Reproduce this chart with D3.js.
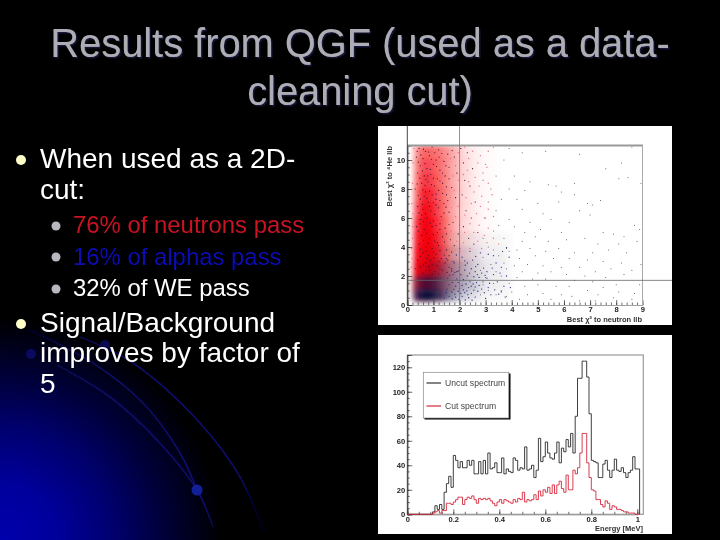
<!DOCTYPE html>
<html><head><meta charset="utf-8">
<script src="https://cdnjs.cloudflare.com/ajax/libs/d3/7.8.5/d3.min.js"></script>
<style>html,body{margin:0;padding:0;background:#000}svg{display:block}text{font-family:"Liberation Sans",Arial,sans-serif}</style>
</head><body><div id="c"></div>
<script>
// ---------- slide text ----------
const titleLines = ["Results from QGF (used as a data-", "cleaning cut)"];
const bulletOne = ["When used as a 2D-", "cut:"];
const subBullets = ["76% of neutrons pass", "16% of alphas pass", "32% of WE pass"];
const bulletTwo = ["Signal/Background", "improves by factor of", "5"];

// ---------- scatter: density read per cell (rows from y=11 down to the floor, columns 0.25 wide) ----------
const densityColStep = 0.25;
const densityFloor = 0.3;
const redDensity = [
 [.02,.42,.60,.58,.54,.46,.36,.26,.15,.09,.06,.03,.02,.01,0,0],
 [.02,.48,.70,.68,.58,.48,.36,.26,.15,.10,.06,.03,.02,.01,0,0],
 [.02,.52,.78,.74,.62,.50,.36,.26,.15,.10,.06,.03,.02,.01,0,0],
 [.03,.58,.88,.84,.68,.52,.38,.26,.15,.10,.06,.03,.02,.01,0,0],
 [.03,.68,.96,.90,.74,.55,.38,.26,.15,.10,.06,.03,.02,.01,0,0],
 [.05,.82,1,.97,.80,.60,.40,.26,.15,.10,.06,.03,.02,.01,0,0],
 [.05,.88,1,1,.86,.62,.40,.26,.15,.10,.06,.03,.02,.01,0,0],
 [.06,.95,1,1,.90,.66,.42,.26,.15,.09,.05,.02,.01,0,0,0],
 [.08,1,1,1,.90,.66,.38,.22,.12,.06,.03,.02,.01,0,0,0],
 [.08,.80,.85,.78,.58,.36,.24,.12,.06,.03,.01,0,0,0,0,0],
 [.04,.30,.30,.25,.20,.10,.05,.02,0,0,0,0,0,0,0,0]
];
const navyDensity = [
 [0,0,0,0,0,0,0,0,0,0,0,0,0,0,0,0],
 [0,0,0,0,0,0,0,0,0,0,0,0,0,0,0,0],
 [0,0,0,0,0,0,0,0,0,0,0,0,0,0,0,0],
 [0,0,0,0,0,0,0,0,0,0,0,0,0,0,0,0],
 [0,0,0,0,0,0,0,0,0,0,0,0,0,0,0,0],
 [0,0,0,0,0,0,0,0,0,0,0,0,0,0,0,0],
 [0,0,0,0,.02,.03,.04,.05,.05,.05,.05,.04,.03,.03,.03,.02],
 [0,0,.03,.05,.08,.10,.12,.14,.14,.12,.10,.07,.05,.05,.06,.02],
 [0,.04,.12,.20,.26,.30,.32,.30,.26,.20,.14,.10,.07,.07,.05,.03],
 [.03,.45,.70,.72,.62,.50,.42,.36,.30,.22,.16,.11,.07,.06,.05,.03],
 [.05,.80,1,.98,.85,.65,.45,.30,.20,.14,.10,.06,.04,.03,.03,.02]
];

// ---------- scatter: individual dark events ----------
const cloudDots = [[.45,10.8],[.7,10.6],[.95,10.9],[1.2,10.7],[1.55,10.4],[.35,10.2],[.6,10.1],[.85,10.3],[1.1,10],[1.4,9.9],[1.8,10.2],[.5,9.6],[.75,9.4],[1,9.7],[1.25,9.3],[1.6,9.5],[.4,9.1],[.65,8.9],[.9,9],[1.15,8.7],[1.45,8.9],[1.9,9.1],[.55,8.4],[.8,8.5],[1.05,8.2],[1.35,8.4],[1.7,8.1],[.3,8],[.7,7.8],[.95,7.6],[1.2,7.9],[1.5,7.6],[.5,7.3],[.8,7.1],[1.1,7.3],[1.4,7],[1.85,7.4],[.4,6.8],[.6,6.6],[.9,6.5],[1.2,6.7],[1.6,6.4],[.75,6],[.5,5.9],[1,5.8],[1.3,6.1],[1.75,5.7],[.35,5.4],[.65,5.2],[.95,5.4],[1.15,5],[1.45,5.3],[.55,4.8],[.85,4.6],[1.05,4.4],[1.35,4.7],[1.65,4.5],[1.95,4.9],[.45,4.2],[.7,4],[.95,3.9],[1.2,4.1],[1.5,3.8],[1.8,4.1],[.6,3.6],[.8,3.4],[1.1,3.5],[1.3,3.2],[1.6,3.4],[.4,3.1],[.7,2.9],[.95,2.8],[1.15,2.7],[1.45,2.9],[1.75,3],[.5,2.6],[.85,2.4],[1.05,2.3],[1.35,2.4],[1.6,2.6],[1.9,2.3],[.6,2.2],[.3,2.5],[2.05,10.8],[2.3,10.5],[2.15,9.8],[2.5,9.4],[2.2,8.6],[2.4,8.2],[2.1,7.6],[2.6,7.1],[2.25,6.5],[2.45,6],[2.15,5.4],[2.7,5],[2.35,4.6],[2.55,4.2],[.65,7.5],[.55,6.2],[.9,3.1],[1.25,5.6],[.78,8.9],[1.05,10.5],[.48,5.6],[1.55,7.2],
 [.38,10.6],[.62,10.75],[.82,10.55],[1.32,10.45],[1.72,10.65],[.52,10.35],[.92,10.05],[1.22,10.2],[.42,9.85],[.68,9.75],[1.12,9.55],[1.48,9.6],[.58,9.25],[.88,9.35],[1.35,9.1],[.48,8.75],[.72,8.65],[1,8.75],[1.25,8.55],[1.6,8.7],[.38,8.35],[.68,8.25],[.92,8.3],[1.5,8.15],[.6,7.95],[.85,7.85],[1.1,7.65],[1.35,7.7],[.42,7.55],[.75,7.35],[1,7.05],[1.25,7.2],[.58,6.95],[.85,6.8],[1.1,6.9],[1.48,6.75],[.45,6.35],[.7,6.3],[1.05,6.25],[1.4,6.35],[.62,5.75],[.88,5.65],[1.1,5.5],[1.6,5.55],[.42,5.1],[.75,4.95],[1,4.85],[1.25,5.2],[1.5,4.9],[.62,4.45],[.8,4.25],[1.15,4.3],[1.42,4.35],[.5,3.85],[.72,3.7],[1,3.65],[1.25,3.75],[1.42,3.45],[1.7,3.65],[.5,3.35],[.75,3.2],[1.02,3.25],[1.22,3],[1.55,3.1],[.62,2.75],[.82,2.65],[1.25,2.5],[1.52,2.25],[1.7,2.35],[.72,2.4],[.95,2.15],[1.2,2.15]];
const pinkDots = [[2.2,10.9],[2.5,10.6],[2.8,10.3],[3.1,10.6],[2.35,10.1],[2.7,9.8],[3.05,9.5],[2.3,9.3],[2.9,9.1],[2.15,9],[2.6,8.8],[2.35,8.5],[2.75,8.2],[3.1,8.4],[2.55,7.8],[2.25,7.4],[2.85,7.5],[3.25,7.6],[2.45,7],[2.8,6.8],[3.1,6.6],[2.2,6.2],[2.65,6.3],[2.95,6],[3.3,6.1],[2.4,5.6],[2.75,5.5],[3.1,5.3],[2.2,5],[2.55,5],[2.95,4.8],[3.3,4.6],[2.15,4.3],[2.7,4.4],[3.05,4.3],[3.5,4.2],[2.4,3.9],[2.85,3.9],[3.3,3.8],[1.95,10.5],[1.85,9.6],[1.95,8.6],[1.8,7.9],[1.95,6.8],[1.85,6.1],[2,5.5],[1.9,4.4],[2,3.7],[1.65,10.1],[1.75,8.9],[1.65,7.4],[1.7,6.7],[1.68,5.1],[2.05,2.9],[.22,9.8],[.2,8.4],[.18,7],[.2,5.4],[.16,3.9],[.15,2.6],[.25,10.8],[.22,6.3],[.2,4.6],[.18,3.2]];
const outerDots = [[3.3,10.9],[3.9,10.8],[4.4,10.5],[5.3,10.6],[6.6,10.4],[8.6,10.9],[8.2,9.8],[7.6,9.4],[3.7,10],[3,9.7],[2.9,8.6],[3.4,8.9],[4.1,8.9],[4.7,8.5],[5.4,8.3],[5.7,8.2],[6.4,8.4],[8.1,8.7],[8.45,8.8],[8.95,8.4],[3.2,8],[3.9,8],[4.5,7.9],[5.9,7.8],[6.4,7.6],[7.4,7.2],[3.1,7.1],[3.6,7.3],[4.2,7.3],[5,7],[5.8,7.1],[6.9,7],[7.1,6.9],[3.4,6.5],[4.4,6.6],[5.2,6.3],[6.6,6.5],[7,6.2],[3,6],[3.9,5.9],[4.7,5.7],[5.5,5.9],[6.2,5.7],[8.7,5.5],[8.9,5.2],[3.5,5.5],[4.1,5.4],[3.3,5.1],[4.5,5],[5.1,5.2],[5.9,5],[7.5,5],[7.9,4.9],[8.3,4.7],[2.9,4.6],[3.7,4.6],[4.4,4.4],[4.9,4.7],[5.4,4.4],[6.1,4.5],[6.8,4.6],[7.3,4.2],[8.1,4.2],[8.8,4.4],[3.1,4],[3.8,3.9],[3.9,3.7],[4.2,3.8],[4.7,3.9],[5.3,3.7],[5.8,3.9],[6.4,3.6],[7.1,3.6],[7.7,3.8],[8.4,3.6],[2.9,3.3],[3.5,3.4],[4.3,3.2],[4.9,3.4],[5.6,3.2],[6.2,3.2],[6.9,3.1],[7.5,3],[8.2,2.9],[8.95,2.8],[3.2,2.8],[3.7,2.9],[4.1,2.7],[4.6,2.8],[5.2,2.7],[5.9,2.6],[6.6,2.6],[7.2,2.3],[7.8,2.5],[8.6,2.4],[2.8,2.4],[3.4,2.3],[3.8,2.5],[4.4,2.3],[5,2.2],[5.5,2.3],[6.1,2.1],[6.8,2],[7.6,1.9],[8.3,2.1],[3,1.9],[3.6,2],[4.2,1.9],[4.8,1.8],[5.3,1.8],[6.4,1.7],[7.1,1.6],[8,1.4],[8.9,1.4],[2.9,1.4],[3.3,1.5],[3.9,1.5],[4.5,1.3],[5,1.4],[5.7,1.3],[6.2,1.3],[6.9,1],[7.5,1.2],[8.1,.9],[8.7,.8],[3.1,1],[3.6,1],[4,.9],[4.6,.7],[5.2,.8],[5.9,.7],[6.3,.6],[7.3,.7],[7.9,.5],[8.6,.4],[2.8,.7],[3.4,.7],[3.8,.6],[4.3,.4],[5.5,.4],[6.6,.3],[7.2,.3]];
const midDots = [[1.5,3.2],[1.8,2.9],[2.1,3.3],[2.3,2.9],[2.5,3.1],[2.7,2.8],[1.7,2.5],[2,2.6],[2.2,2.4],[2.45,2.5],[2.6,2.3],[2.85,2.2],[3.05,2.3],[3.3,2.1],[3.55,2.2],[3.8,2],[2.05,2.1],[2.3,2],[2.55,1.95],[2.75,1.9],[1.9,1.8],[2.15,1.75],[2.4,1.6],[2.65,1.55],[2.9,1.6],[3.15,1.5],[3.45,1.6],[3.7,1.3],[3.95,1.2],[1.6,1.4],[1.85,1.3],[2.1,1.35],[2.35,1.2],[2.6,1.25],[2.85,1.1],[3.1,1.2],[3.35,1.05],[3.6,.9],[1.7,.9],[1.95,.95],[2.2,.85],[2.45,.8],[2.7,.95],[2.95,.85],[3.2,.7],[3.5,.75],[3.75,.55],[1.6,.6],[1.85,.55],[2.1,.6],[2.35,.5],[2.6,.55],[3,.45],[3.3,3.4],[3.65,3.7],[3.8,3.95],[3.9,3.3],[3.4,2.9],[3.1,3.5],[2.8,3.6],[2.4,3.7],[2,3.9],[2.15,1.05],[2.52,1.45],[1.75,2.1],[1.55,1.85],[3.05,1.85],[3.25,2.55],[3.6,2.6],
 [1.62,2.05],[1.82,2.25],[2.22,2.75],[2.62,2.65],[2.92,2.55],[1.72,1.55],[1.95,1.55],[2.25,1.45],[2.45,1.3],[2.75,1.35],[1.52,1.1],[1.78,1.08],[2,1.12],[2.28,.98],[2.55,1.02],[1.5,.85],[1.82,.75],[2.05,.8],[2.32,.72],[1.42,.48],[1.72,.42],[1.98,.38],[2.22,.35],[2.48,.33],[1.95,2.35],[2.38,2.2],[2.68,2.1],[2.98,2.05],[2.2,3.05],[2.62,3.35],[1.88,3.45]];

// ---------- spectrum: counts per 0.01 MeV bin ----------
const uncutCounts = [0,0,0,0,0,0,0,0,0,0,0,2,7,4,8,4,18,25,31,22,48,44,38,43,38,38,44,40,44,33,33,43,33,44,33,50,37,38,42,34,34,46,33,37,35,34,46,44,36,38,37,55,36,37,40,30,36,62,43,47,59,50,46,45,50,59,42,54,51,61,55,66,50,80,111,111,125,125,112,82,44,43,42,30,30,41,44,36,30,36,45,36,35,38,34,30,34,36,47,37];
const cutCounts = [0,0,0,0,0,0,0,0,0,0,0,1,2,3,1,3,3,9,9,8,10,12,14,14,8,12,14,13,15,12,9,13,12,13,12,13,11,9,7,10,12,9,12,11,10,9,12,10,13,12,18,10,12,11,12,16,12,19,15,20,18,22,17,24,17,24,27,21,18,32,20,20,36,33,38,50,66,66,42,30,20,19,12,12,8,6,11,9,4,7,6,4,4,3,2,2,1,1,1,0];
const legendLabels = ["Uncut spectrum", "Cut spectrum"];
const scatterXTicks = [0,1,2,3,4,5,6,7,8,9];
const scatterYTicks = [0,2,4,6,8,10];
const specXTicks = [0,.2,.4,.6,.8,1];
const specYTicks = [0,20,40,60,80,100,120];

const svg = d3.select("#c").append("svg").attr("width",720).attr("height",540);
const defs = svg.append("defs");
const glow = defs.append("radialGradient").attr("id","glow").attr("gradientUnits","userSpaceOnUse")
  .attr("cx",0).attr("cy",540).attr("r",222);
[[0,"#0000ac"],[.25,"#00009c"],[.5,"#000070"],[.75,"#000036"],[1,"#000000"]].forEach(s=>glow.append("stop").attr("offset",s[0]).attr("stop-color",s[1]));
defs.append("filter").attr("id","soft").append("feGaussianBlur").attr("stdDeviation",.4);
defs.append("filter").attr("id","cloud").attr("x","-5%").attr("y","-5%").attr("width","110%").attr("height","110%").append("feGaussianBlur").attr("stdDeviation",2.6);
defs.append("filter").attr("id","txt").append("feGaussianBlur").attr("stdDeviation",.25);
const ts = defs.append("filter").attr("id","titleShadow");
ts.append("feDropShadow").attr("dx",1.5).attr("dy",1.5).attr("stdDeviation",.4).attr("flood-color","#16163a");
defs.append("clipPath").attr("id","sc").append("rect").attr("x",407).attr("y",146).attr("width",236).attr("height",159);

svg.append("rect").attr("width",720).attr("height",540).attr("fill","#000");
svg.append("rect").attr("width",720).attr("height",540).attr("fill","url(#glow)");

// decorative arcs
const arc = d3.line().curve(d3.curveCatmullRom);
const fadeStroke = defs.append("linearGradient").attr("id","arcg").attr("gradientUnits","userSpaceOnUse").attr("x1",30).attr("y1",330).attr("x2",240).attr("y2",540);
[[0,"#05052e"],[.3,"#0c0c62"],[.8,"#0e0e6c"],[1,"#000020"]].forEach(s=>fadeStroke.append("stop").attr("offset",s[0]).attr("stop-color",s[1]));
[[[57,365],[110,397],[157,440],[197,490],[213,527]],
 [[30,330],[93,363],[143,403],[180,453],[197,490]],
 [[80,337],[133,363],[200,423],[240,477],[263,530]]].forEach(p=>
  svg.append("path").attr("d",arc(p)).attr("fill","none").attr("stroke","url(#arcg)").attr("stroke-width",1.7).attr("filter","url(#txt)"));
[[197,490,5.5,"#10209a"],[31,354,5,"#0a0a60"],[105,345,5,"#0a0a50"]].forEach(d=>
  svg.append("circle").attr("cx",d[0]).attr("cy",d[1]).attr("r",d[2]).attr("fill",d[3]));

// slide text
const T = (s,x,y,size,fill,anchor,f) => svg.append("text").attr("x",x).attr("y",y).attr("font-size",size).attr("fill",fill).attr("text-anchor",anchor||"start").attr("filter",f||"url(#txt)").text(s);
titleLines.forEach((s,i)=>T(s,360,57+i*48,39.8,"#adadb6","middle","url(#titleShadow)"));
bulletOne.forEach((s,i)=>T(s,40,168+i*30.5,28,"#ffffff"));
[["#c81224",233],["#0a0ab4",264.5],["#ffffff",296]].forEach((d,i)=>T(subBullets[i],73,d[1],23.9,d[0]));
bulletTwo.forEach((s,i)=>T(s,40,332+i*30.3,28,"#ffffff"));
[[21,160,5,"#ffffc8"],[21,324,5,"#ffffc8"],[56,226,4.5,"#b8b8c0"],[56,257,4.5,"#b8b8c0"],[56,289,4.5,"#b8b8c0"]].forEach(d=>
  svg.append("circle").attr("cx",d[0]).attr("cy",d[1]).attr("r",d[2]).attr("fill",d[3]));

// ---------- scatter panel ----------
svg.append("rect").attr("x",378).attr("y",126).attr("width",294).attr("height",199).attr("fill","#fff");
const p1 = svg.append("g").attr("filter","url(#soft)");
const sx = d3.scaleLinear().domain([0,9]).range([407.3,642.3]);
const sy = d3.scaleLinear().domain([0,11]).range([305,145.5]);
const clipG = p1.append("g").attr("clip-path","url(#sc)");
const densityLayer = (grid,color,op) => {
  const g = clipG.append("g").attr("filter","url(#cloud)");
  grid.forEach((row,r)=>row.forEach((v,c)=>{
    if(!v) return;
    const bottom = Math.max(10-r, densityFloor);
    g.append("rect").attr("x",sx(c*densityColStep)).attr("width",sx(densityColStep)-sx(0)+.5)
     .attr("y",sy(11-r)).attr("height",sy(bottom)-sy(11-r)+.5).attr("fill",color).attr("opacity",v*op);
  }));
};
densityLayer(redDensity,"#f5000a",1);
densityLayer(navyDensity,"#0a0838",1);
const dots = (arr,color,r) => clipG.append("g").selectAll("circle").data(arr).join("circle")
  .attr("cx",d=>sx(d[0])).attr("cy",d=>sy(d[1])).attr("r",r).attr("fill",color);
dots(pinkDots,"#e8708a",.7);
dots(midDots,"#2a2a80",.65);
dots(outerDots,"#44445e",.5);
dots(cloudDots,"#3a1030",.6);

const styleAxis = g => { g.selectAll("path,line").attr("stroke","#333").attr("stroke-width",.7);
  g.selectAll("text").attr("font-size",7.6).attr("font-weight","bold").attr("fill","#222"); };
function axes(g,x,y,xTicks,yTicks,xMinor,yMinor){
  const a = g.append("g").attr("transform",`translate(0,${y.range()[0]})`);
  a.call(d3.axisBottom(x).tickValues(xMinor).tickSize(-2.5).tickFormat("")).call(styleAxis);
  const a2 = g.append("g").attr("transform",`translate(0,${y.range()[0]})`);
  a2.call(d3.axisBottom(x).tickValues(xTicks).tickSize(-5).tickPadding(2).tickFormat(d3.format("~g"))).call(styleAxis);
  a2.select(".domain").attr("stroke","#999"); a.select(".domain").attr("stroke","#999");
  const b = g.append("g").attr("transform",`translate(${x.range()[0]},0)`);
  b.call(d3.axisLeft(y).tickValues(yMinor).tickSize(-2.5).tickFormat("")).call(styleAxis);
  const b2 = g.append("g").attr("transform",`translate(${x.range()[0]},0)`);
  b2.call(d3.axisLeft(y).tickValues(yTicks).tickSize(-5).tickPadding(2).tickFormat(d3.format("~g"))).call(styleAxis);
}
axes(p1,sx,sy,scatterXTicks,scatterYTicks,d3.range(0,9.01,.2),d3.range(0,11.01,.5));
// frame and cut lines
p1.append("line").attr("x1",407).attr("x2",643).attr("y1",145.5).attr("y2",145.5).attr("stroke","#999").attr("stroke-width",2);
p1.append("line").attr("x1",642.5).attr("x2",642.5).attr("y1",145.5).attr("y2",305).attr("stroke","#aaa");
p1.append("line").attr("x1",sx(0)).attr("x2",sx(0)).attr("y1",126).attr("y2",305).attr("stroke","#444");
p1.append("line").attr("x1",sx(2)).attr("x2",sx(2)).attr("y1",126).attr("y2",305).attr("stroke","#777").attr("stroke-width",.8);
p1.append("line").attr("x1",sx(0)).attr("x2",672).attr("y1",sy(1.7)).attr("y2",sy(1.7)).attr("stroke","#666").attr("stroke-width",.8);
const lab = (g,s,x,y,rot) => g.append("text").attr("transform",`translate(${x},${y})`+(rot?" rotate(-90)":"")).attr("text-anchor","end").attr("font-size",7.5).attr("font-weight","bold").attr("fill","#333").text(s);
lab(p1,"Best χ² to neutron llb",642,322);
lab(p1,"Best χ² to ⁴He llb",392,146,true);

// ---------- spectrum panel ----------
svg.append("rect").attr("x",378).attr("y",335).attr("width",294).attr("height",199).attr("fill","#fff");
const p2 = svg.append("g").attr("filter","url(#soft)");
const hx = d3.scaleLinear().domain([0,1]).range([407.3,637.3]);
const hy = d3.scaleLinear().domain([0,130]).range([514.3,355]);
p2.append("rect").attr("x",407.3).attr("y",355).attr("width",236).attr("height",159.3).attr("fill","none").attr("stroke","#999").attr("stroke-width",1.2);
axes(p2,hx,hy,specXTicks,specYTicks,d3.range(0,1.001,.05),d3.range(0,130.01,5));
const step = d3.line().curve(d3.curveStepAfter).x((d,i)=>hx(i/100)).y(d=>hy(d));
const close = a => a.concat([a[a.length-1],0]);
p2.append("path").attr("d",step(close(uncutCounts))).attr("fill","none").attr("stroke","#2a2a2a").attr("stroke-width",.9);
p2.append("path").attr("d",step(close(cutCounts))).attr("fill","none").attr("stroke","#d6283a").attr("stroke-width",.9);
lab(p2,"Energy [MeV]",643,531);
// legend
p2.append("rect").attr("x",424.5).attr("y",373.5).attr("width",86).attr("height",46).attr("fill","#000");
p2.append("rect").attr("x",423.3).attr("y",372.3).attr("width",85.5).attr("height",45.7).attr("fill","#fff").attr("stroke","#888").attr("stroke-width",.7);
[["#333",383],["#d6283a",406]].forEach((d,i)=>{
  p2.append("line").attr("x1",426.5).attr("x2",441).attr("y1",d[1]).attr("y2",d[1]).attr("stroke",d[0]).attr("stroke-width",1.2);
  p2.append("text").attr("x",445).attr("y",d[1]+3.2).attr("font-size",8.6).attr("fill","#444").text(legendLabels[i]);
});
</script></body></html>
